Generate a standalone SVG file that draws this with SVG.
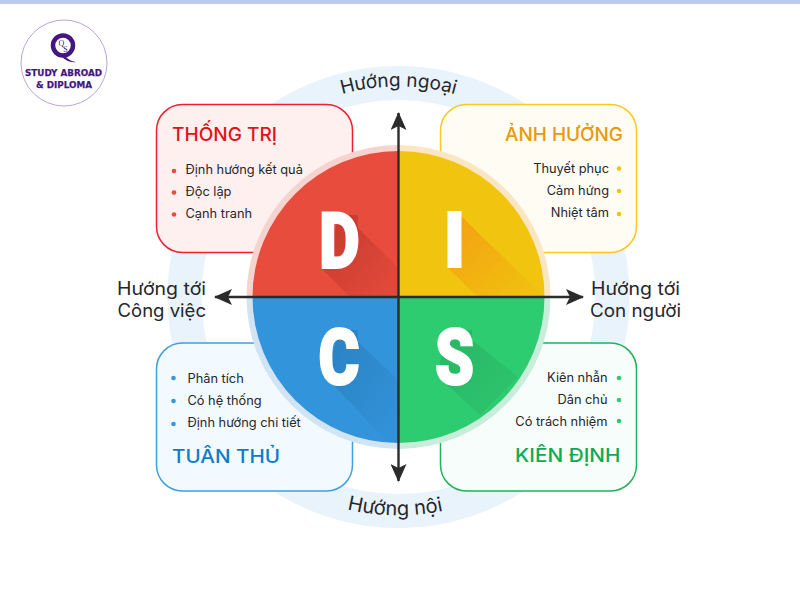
<svg xmlns="http://www.w3.org/2000/svg" width="800" height="600" viewBox="0 0 800 600">
<style>
text{font-family:"Inter","Noto Sans","Liberation Sans",sans-serif;fill:#26262b}
.t{font-size:19px;font-weight:500}
.b{font-size:12.8px}
.a{font-size:18px}
.e{text-anchor:end}
.card{stroke-width:1.5}
.l{font-family:"Roboto","Liberation Sans",sans-serif;font-weight:900;fill:#fff;font-size:78px;text-anchor:middle;stroke:#fff;stroke-width:2.2px}
.axis{stroke:#2b2b2b;stroke-width:2.4;fill:none}
.logo{font-family:"DejaVu Sans",sans-serif;font-weight:700;font-size:9px;fill:#46167f;stroke:#46167f;stroke-width:.25px}
</style>
<defs>
<marker id="arr" viewBox="0 0 18 16" refX="17" refY="8" markerWidth="18" markerHeight="16" markerUnits="userSpaceOnUse" orient="auto-start-reverse"><path d="M0 0L18 8L0 16L4 8Z" fill="#2b2b2b"/></marker>
<clipPath id="qd"><path d="M398.500 297V151A146 146 0 0 0 252.500 297Z"/></clipPath>
<clipPath id="qi"><path d="M398.500 297V151A146 146 0 0 1 544.500 297Z"/></clipPath>
<clipPath id="qc"><path d="M398.500 297V443A146 146 0 0 1 252.500 297Z"/></clipPath>
<linearGradient id="gd" x1="0" y1="0" x2="1" y2="1"><stop offset="0" stop-color="#c0392b" stop-opacity=".95"/><stop offset=".85" stop-color="#c0392b" stop-opacity=".2"/></linearGradient>
<linearGradient id="gi" x1="0" y1="0" x2="1" y2="1"><stop offset="0" stop-color="#f39c12" stop-opacity=".9"/><stop offset=".9" stop-color="#f39c12" stop-opacity=".1"/></linearGradient>
<linearGradient id="gc" x1="0" y1="0" x2="1" y2="1"><stop offset="0" stop-color="#2a7fbd" stop-opacity=".9"/><stop offset=".9" stop-color="#2a7fbd" stop-opacity=".1"/></linearGradient>
<linearGradient id="gs" x1="0" y1="0" x2="1" y2="1"><stop offset="0" stop-color="#27ae60" stop-opacity=".75"/><stop offset="1" stop-color="#27ae60" stop-opacity=".2"/></linearGradient>
<path id="arcTop" d="M188 297A210.500 210.500 0 0 1 609 297"/>
<path id="arcBot" d="M180 297A218.500 218.500 0 0 0 617 297"/>
</defs>
<rect width="800" height="600" fill="#fff"/>
<rect width="800" height="4" fill="#b9cdf0"/>

<g id="logo">
<circle cx="64" cy="63" r="43" fill="#fff" stroke="#bba3d9" stroke-width="1"/>
<circle cx="63" cy="45.500" r="10" fill="none" stroke="#46167f" stroke-width="4.500"/>
<path d="M64 54.500C67 59 71 61.500 76 62C71 63 66 61 61 56Z" fill="#46167f"/>
<text class="logo" x="61.500" y="46" text-anchor="middle" style="font-size:8px;font-weight:400;font-family:'Liberation Serif',serif;stroke-width:0">Q</text>
<text class="logo" x="65.500" y="52" text-anchor="middle" style="font-size:8px;font-weight:400;font-family:'Liberation Serif',serif;stroke-width:0">S</text>
<text class="logo" x="25" y="76" textLength="77" lengthAdjust="spacingAndGlyphs">STUDY ABROAD</text>
<text class="logo" x="36" y="88" textLength="56" lengthAdjust="spacingAndGlyphs">&amp; DIPLOMA</text>
</g>

<circle id="outer-ring" cx="398.500" cy="297" r="214" fill="none" stroke="#e8f3fb" stroke-width="34"/>

<g id="axis-top"><text class="a" style="font-size:19px"><textPath href="#arcTop" startOffset="50%" text-anchor="middle">Hướng ngoại</textPath></text></g>
<g id="axis-bottom"><text class="a" style="font-size:20px"><textPath href="#arcBot" startOffset="49.500%" text-anchor="middle">Hướng nội</textPath></text></g>
<g id="axis-left"><text class="a" x="117" y="295" textLength="89" lengthAdjust="spacingAndGlyphs">Hướng tới</text><text class="a" x="117.500" y="317" textLength="88.500" lengthAdjust="spacingAndGlyphs">Công việc</text></g>
<g id="axis-right"><text class="a" x="591" y="295" textLength="89" lengthAdjust="spacingAndGlyphs">Hướng tới</text><text class="a" x="590" y="317" textLength="91" lengthAdjust="spacingAndGlyphs">Con người</text></g>

<g id="card-d">
<rect class="card" x="156.500" y="104.500" width="196" height="148" rx="26" fill="#fff0f0" stroke="#ee2030"/>
<text class="t" x="172" y="141" textLength="105" lengthAdjust="spacingAndGlyphs" style="fill:#e5101a">THỐNG TRỊ</text>
<g fill="#e84c3d"><circle cx="174" cy="171" r="2.300"/><circle cx="174" cy="192.500" r="2.300"/><circle cx="174" cy="214.500" r="2.300"/></g>
<text class="b" x="185.500" y="174">Định hướng kết quả</text>
<text class="b" x="185.500" y="196">Độc lập</text>
<text class="b" x="185.500" y="218">Cạnh tranh</text>
</g>
<g id="card-i">
<rect class="card" x="440.500" y="104.500" width="196" height="148" rx="26" fill="#fffcf3" stroke="#f9c91e"/>
<text class="t" x="505" y="141" textLength="118" lengthAdjust="spacingAndGlyphs" style="fill:#e79a0c">ẢNH HƯỞNG</text>
<g fill="#f1c40f"><circle cx="619" cy="168.500" r="2.300"/><circle cx="619" cy="191" r="2.300"/><circle cx="619" cy="214" r="2.300"/></g>
<text class="b e" x="609" y="173">Thuyết phục</text>
<text class="b e" x="609" y="195">Cảm hứng</text>
<text class="b e" x="609" y="217">Nhiệt tâm</text>
</g>
<g id="card-c">
<rect class="card" x="156.500" y="343" width="196" height="148" rx="26" fill="#f2faff" stroke="#3f9fe0"/>
<text class="t" x="172" y="463" textLength="108" lengthAdjust="spacingAndGlyphs" style="fill:#0f7cc8">TUÂN THỦ</text>
<g fill="#3498db"><circle cx="173.500" cy="378" r="2.300"/><circle cx="173.500" cy="401" r="2.300"/><circle cx="173.500" cy="424" r="2.300"/></g>
<text class="b" x="187.500" y="383">Phân tích</text>
<text class="b" x="187.500" y="405">Có hệ thống</text>
<text class="b" x="187.500" y="427">Định hướng chi tiết</text>
</g>
<g id="card-s">
<rect class="card" x="440.500" y="343" width="196" height="148" rx="26" fill="#f7fdfa" stroke="#1fb25a"/>
<text class="t" x="515" y="462" textLength="105.500" lengthAdjust="spacingAndGlyphs" style="fill:#13a94f">KIÊN ĐỊNH</text>
<g fill="#2ecc71"><circle cx="619" cy="378" r="2.300"/><circle cx="619" cy="400" r="2.300"/><circle cx="619" cy="421" r="2.300"/></g>
<text class="b e" x="607.500" y="382">Kiên nhẫn</text>
<text class="b e" x="607.500" y="404">Dân chủ</text>
<text class="b e" x="607.500" y="426">Có trách nhiệm</text>
</g>

<g id="disc">
<path d="M398.500 297V145A152 152 0 0 0 246.500 297Z" fill="#f5d3cf"/>
<path d="M398.500 297V145A152 152 0 0 1 550.500 297Z" fill="#fbe6c4"/>
<path d="M398.500 297V449A152 152 0 0 1 246.500 297Z" fill="#d0e4f4"/>
<path d="M398.500 297V449A152 152 0 0 0 550.500 297Z" fill="#c8eedb"/>
<g id="quadrant-d">
<path d="M398.500 297V151A146 146 0 0 0 252.500 297Z" fill="#e84c3d"/>
<path clip-path="url(#qd)" d="M321 268L350 297H398.500V268L358 228V215H340Z" fill="url(#gd)"/>
<text class="l" x="339.500" y="268" transform="translate(339.500 0) scale(.8 1) translate(-339.500 0)">D</text>
</g>
<g id="quadrant-i">
<path d="M398.500 297V151A146 146 0 0 1 544.500 297Z" fill="#f1c40f"/>
<path clip-path="url(#qi)" d="M448 268L478 297H544L461 216V268Z" fill="url(#gi)"/>
<rect x="447.500" y="211" width="14" height="57" fill="#fff"/>
</g>
<g id="quadrant-c">
<path d="M398.500 297V443A146 146 0 0 1 252.500 297Z" fill="#3294db"/>
<path clip-path="url(#qc)" d="M325 376L388 443H398.500V380L358 342V330H340Z" fill="url(#gc)"/>
<text class="l" x="339" y="384" transform="translate(339 0) scale(.8 1) translate(-339 0)">C</text>
</g>
<g id="quadrant-s">
<path d="M398.500 297V443A146 146 0 0 0 544.500 297Z" fill="#2ecc71"/>
<path d="M438 377L480 415L518 377L472 340V330H445Z" fill="url(#gs)"/>
<text class="l" x="454.500" y="384" transform="translate(454.500 0) scale(.8 1) translate(-454.500 0)">S</text>
</g>
</g>

<g id="connectors">
<path class="axis" d="M398.500 481V113" marker-start="url(#arr)" marker-end="url(#arr)"/>
<path class="axis" d="M215 297H583" marker-start="url(#arr)" marker-end="url(#arr)"/>
</g>
</svg>
